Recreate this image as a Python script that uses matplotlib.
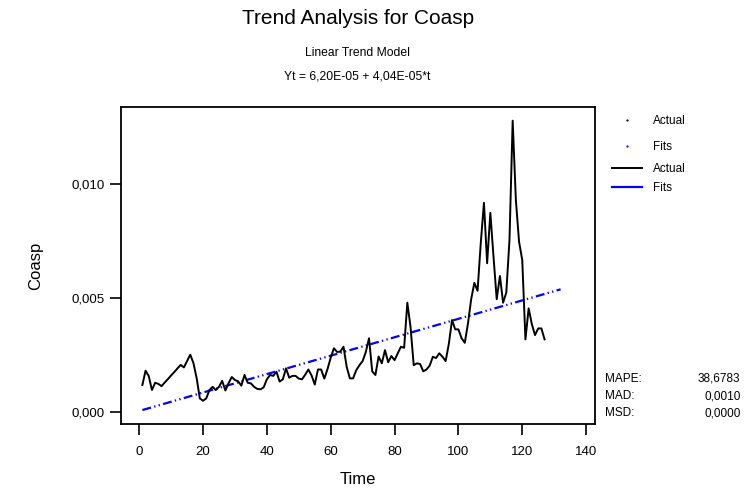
"""Minitab-style trend analysis plot for Coasp."""

import matplotlib

matplotlib.use("Agg")
import matplotlib.pyplot as plt
from matplotlib.lines import Line2D
from matplotlib.ticker import FuncFormatter
import numpy as np

plt.rcParams["font.family"] = ["Liberation Sans", "DejaVu Sans"]

# observed series, one value per period t = 1..127
actual = [
    0.00120, 0.00183, 0.00159, 0.00098, 0.00130, 0.00125, 0.00115, 0.00131,
    0.00146, 0.00162, 0.00177, 0.00193, 0.00208, 0.00197, 0.00225, 0.00253,
    0.00216, 0.00150, 0.00061, 0.00051, 0.00061, 0.00098, 0.00112, 0.00098,
    0.00112, 0.00138, 0.00096, 0.00128, 0.00155, 0.00142, 0.00136, 0.00117,
    0.00164, 0.00130, 0.00127, 0.00112, 0.00103, 0.00101, 0.00110, 0.00145,
    0.00164, 0.00160, 0.00178, 0.00135, 0.00145, 0.00193, 0.00152, 0.00160,
    0.00160, 0.00148, 0.00145, 0.00165, 0.00188, 0.00162, 0.00122, 0.00188,
    0.00188, 0.00148, 0.00190, 0.00240, 0.00281, 0.00265, 0.00266, 0.00288,
    0.00200, 0.00149, 0.00149, 0.00185, 0.00207, 0.00225, 0.00265, 0.00325,
    0.00180, 0.00164, 0.00245, 0.00215, 0.00273, 0.00220, 0.00247, 0.00229,
    0.00259, 0.00288, 0.00283, 0.00481, 0.00375, 0.00207, 0.00215, 0.00212,
    0.00180, 0.00188, 0.00205, 0.00244, 0.00238, 0.00259, 0.00244, 0.00225,
    0.00300, 0.00405, 0.00364, 0.00364, 0.00325, 0.00305, 0.00390, 0.00496,
    0.00568, 0.00533, 0.00741, 0.00919, 0.00654, 0.00875, 0.00682, 0.00496,
    0.00598, 0.00481, 0.00525, 0.00756, 0.01279, 0.00931, 0.00748, 0.00668,
    0.00320, 0.00456, 0.00387, 0.00339, 0.00368, 0.00368, 0.00320,
]

# linear trend model Yt = b0 + b1*t, fitted periods plus 5 forecasts
b0 = 6.20e-05
b1 = 4.04e-05
n_fit = 132

stat_names = ["MAPE:", "MAD:", "MSD:"]
stat_values = ["38,6783", "0,0010", "0,0000"]

x_ticks = [0, 20, 40, 60, 80, 100, 120, 140]
y_ticks = [0.000, 0.005, 0.010]

t_actual = np.arange(1, len(actual) + 1)
t_fit = np.arange(1, n_fit + 1)
fits = b0 + b1 * t_fit

fig = plt.figure(figsize=(7.45, 4.92), dpi=100)
ax = fig.add_axes([0.1624, 0.1382, 0.6363, 0.6443])

ax.plot(t_fit, fits, color="#0000ff", lw=1.6, dashes=(4, 1.5, 0.6, 1.5, 0.6, 1.5))
ax.plot(t_actual, actual, color="black", lw=1.4)

ax.set_xlim(-5.7, 142.8)
ax.set_ylim(-0.00051, 0.01339)
ax.set_xticks(x_ticks)
ax.set_yticks(y_ticks)
ax.yaxis.set_major_formatter(FuncFormatter(lambda v, p: f"{v:.3f}".replace(".", ",")))
ax.tick_params(direction="out", length=8, width=1.2, labelsize=9.5)
ax.tick_params(axis="x", pad=8)
ax.tick_params(axis="y", pad=4)
for spine in ax.spines.values():
    spine.set_linewidth(1.3)

ax.set_xlabel("Time", fontsize=12, labelpad=10)
ax.set_ylabel("Coasp", fontsize=12, labelpad=20)

fig.text(0.48, 0.962, "Trend Analysis for Coasp", ha="center", va="center", fontsize=15)
fig.text(0.48, 0.893, "Linear Trend Model", ha="center", va="center", fontsize=8.7)
fig.text(0.48, 0.845, "Yt = 6,20E-05 + 4,04E-05*t", ha="center", va="center", fontsize=8.7)

legend_kw = dict(
    loc="upper left", frameon=False, fontsize=8.5, handlelength=2.5,
    handletextpad=0.9, borderpad=0, borderaxespad=0,
)
dot_handles = [
    Line2D([], [], ls="none", marker=".", ms=1.2, color="black"),
    Line2D([], [], ls="none", marker=".", ms=1.2, color="#0000ff"),
]
line_handles = [
    Line2D([], [], color="black", lw=1.4),
    Line2D([], [], color="#0000ff", lw=1.6),
]
fig.legend(dot_handles, ["Actual", "Fits"], bbox_to_anchor=(0.822, 0.766),
           labelspacing=1.15, **legend_kw)
fig.legend(line_handles, ["Actual", "Fits"], bbox_to_anchor=(0.822, 0.668),
           labelspacing=0.6, **legend_kw)

for i, (name, value) in enumerate(zip(stat_names, stat_values)):
    y = 0.230 - i * 0.035
    fig.text(0.812, y, name, ha="left", va="center", fontsize=8.5)
    fig.text(0.994, y, value, ha="right", va="center", fontsize=8.5)

fig.savefig("out.png", dpi=100)
